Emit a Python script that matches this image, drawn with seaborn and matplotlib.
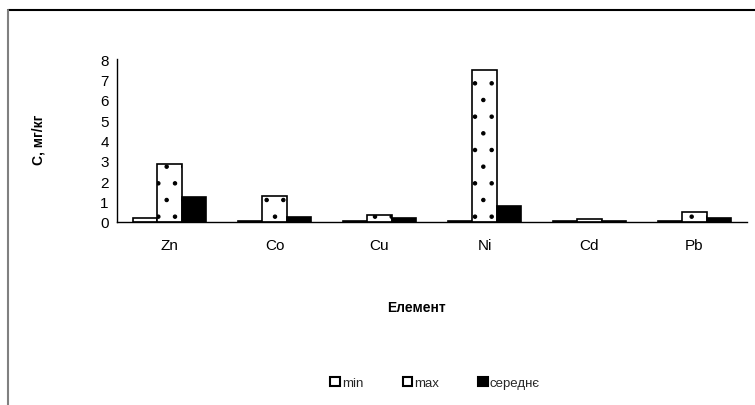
import matplotlib
matplotlib.use("Agg")
import pandas as pd
import matplotlib.pyplot as plt
import seaborn as sns
from matplotlib.patches import Patch
from matplotlib.lines import Line2D

# дані (мг/кг)
elements = ["Zn", "Co", "Cu", "Ni", "Cd", "Pb"]
c_min = [0.18, 0.05, 0.04, 0.02, 0.03, 0.03]
c_max = [2.83, 1.28, 0.33, 7.47, 0.12, 0.46]
c_mean = [1.22, 0.23, 0.18, 0.79, 0.03, 0.20]
series = ["min", "max", "середнє"]

df = pd.DataFrame({
    "Елемент": elements * 3,
    "C": c_min + c_max + c_mean,
    "Ряд": [series[0]] * 6 + [series[1]] * 6 + [series[2]] * 6,
})

sns.set_style("white")
plt.rcParams["font.family"] = ["Liberation Sans", "DejaVu Sans"]
plt.rcParams["hatch.linewidth"] = 0.8

fig = plt.figure(figsize=(7.55, 4.06), dpi=100)
ax = fig.add_axes([117 / 755, (406 - 222.7) / 406, 630 / 755, 162.7 / 406])

sns.barplot(data=df, x="Елемент", y="C", hue="Ряд", order=elements,
            hue_order=series, width=0.686, ax=ax, legend=False,
            palette=["white", "white", "black"], saturation=1)

styles = [("white", ""), ("white", "."), ("black", "")]
for cont, (fc, h) in zip(ax.containers, styles):
    for bar in cont:
        bar.set_facecolor(fc)
        bar.set_edgecolor("black")
        bar.set_linewidth(1.2)
        bar.set_hatch(h)

ax.set_xlim(-0.5, 5.5)
ax.set_ylim(0, 8)
ax.set_yticks(range(0, 9))
ax.set_xticks([i + 0.5 for i in range(-1, 6)], minor=True)
ax.tick_params(axis="x", which="major", length=0, labelsize=11, pad=12)
ax.tick_params(axis="x", which="minor", length=4, width=1, color="black", direction="out")
ax.tick_params(axis="y", length=4, width=1, color="black", direction="out", labelsize=11, pad=2)
ax.tick_params(axis="both", labelcolor="black")
for s in ["top", "right"]:
    ax.spines[s].set_visible(False)
for s in ["left", "bottom"]:
    ax.spines[s].set_color("black")
    ax.spines[s].set_linewidth(1)

ax.set_ylabel("С, мг/кг", fontsize=10, fontweight="bold", color="black")
ax.yaxis.set_label_coords(-0.113, 0.51)
ax.set_xlabel("Елемент", fontsize=10, fontweight="bold", color="black")
ax.xaxis.set_label_coords(0.476, -0.48)

handles = [Patch(facecolor="white", edgecolor="black", linewidth=1.5),
           Patch(facecolor="white", edgecolor="black", linewidth=1.5),
           Patch(facecolor="black", edgecolor="black", linewidth=1.5)]
fig.legend(handles, series, loc="center", bbox_to_anchor=(435 / 755, 22 / 406),
           ncol=3, frameon=False, fontsize=9.5, handlelength=0.7, handleheight=0.7,
           handletextpad=0.15, columnspacing=3.0)

# рамка області діаграми
fig.add_artist(Line2D([8 / 755, 1], [1 - 11 / 406, 1 - 11 / 406],
                      transform=fig.transFigure, color="black", lw=1.5))
fig.add_artist(Line2D([8 / 755, 8 / 755], [0, 1 - 11 / 406],
                      transform=fig.transFigure, color="#808080", lw=1.5))

fig.savefig("out.png", dpi=100, facecolor="white")
